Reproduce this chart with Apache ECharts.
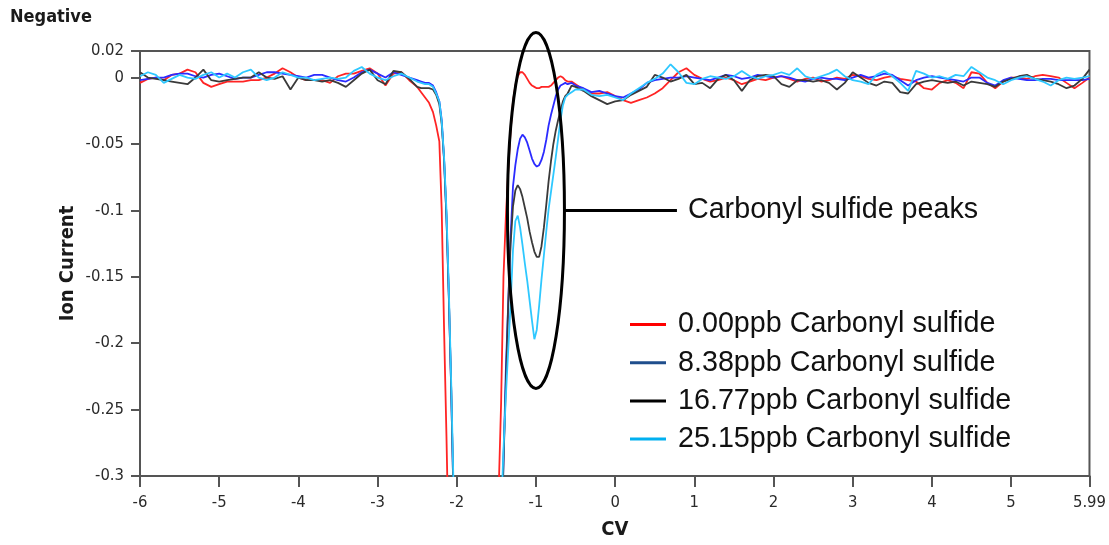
<!DOCTYPE html>
<html>
<head>
<meta charset="utf-8">
<script src="https://cdn.jsdelivr.net/npm/echarts@6/dist/echarts.min.js"></script>
<style>
  html, body { margin: 0; padding: 0; background: #fff; }
  #chart { width: 1109px; height: 545px; }
</style>
</head>
<body>
<div id="chart"></div>
<script>
// Compensation voltage (CV) sample positions shared by all four scans
const cv = [
  -6.0, -5.9, -5.8, -5.7, -5.6, -5.5, -5.4, -5.3, -5.2, -5.1,
  -5.0, -4.9, -4.8, -4.7, -4.6, -4.5, -4.4, -4.3, -4.2, -4.1,
  -4.0, -3.9, -3.8, -3.7, -3.6, -3.5, -3.4, -3.3, -3.2, -3.1,
  -3.0, -2.9, -2.8, -2.7, -2.6,
  -2.5, -2.45, -2.4, -2.35, -2.3, -2.26, -2.22, -2.19, -2.16, -2.13, -2.1, -2.07, -2.04, -2.0,
  -1.8, -1.6,
  -1.5, -1.47, -1.44, -1.41, -1.38, -1.35, -1.32, -1.29, -1.26, -1.23, -1.2, -1.17, -1.14, -1.11,
  -1.08, -1.05, -1.02, -0.99, -0.96, -0.93, -0.9, -0.87, -0.84, -0.81, -0.78, -0.75, -0.72, -0.69,
  -0.66, -0.63, -0.6, -0.55, -0.5,
  -0.4, -0.3, -0.2, -0.1, 0.0, 0.1, 0.2, 0.3, 0.4, 0.5,
  0.6, 0.7, 0.8, 0.9, 1.0, 1.1, 1.2, 1.3, 1.4, 1.5,
  1.6, 1.7, 1.8, 1.9, 2.0, 2.1, 2.2, 2.3, 2.4, 2.5,
  2.6, 2.7, 2.8, 2.9, 3.0, 3.1, 3.2, 3.3, 3.4, 3.5,
  3.6, 3.7, 3.8, 3.9, 4.0, 4.1, 4.2, 4.3, 4.4, 4.5,
  4.6, 4.7, 4.8, 4.9, 5.0, 5.1, 5.2, 5.3, 5.4, 5.5,
  5.6, 5.7, 5.8, 5.9, 5.99
];

// Ion current for 0.00 ppb carbonyl sulfide
const ppb000 = [
  -0.004, -0.001, 0.000, -0.002, 0.002, 0.003, 0.006, 0.004, -0.004, -0.007,
  -0.005, -0.003, -0.003, -0.003, -0.002, -0.002, 0.000, 0.003, 0.007, 0.004,
  0.000, -0.002, -0.002, -0.002, -0.004, 0.001, 0.003, 0.003, 0.005, 0.007,
  0.003, -0.006, 0.003, 0.004, -0.002,
  -0.007, -0.011, -0.015, -0.019, -0.026, -0.036, -0.048, -0.1, -0.19, -0.27, -0.36, -0.45, -0.5, -0.5,
  -0.5, -0.5,
  -0.42, -0.31, -0.245, -0.15, -0.105, -0.07, -0.04, -0.018, -0.006, 0.001, 0.004, 0.004, 0.002, -0.001,
  -0.004, -0.006, -0.007, -0.008, -0.008, -0.007, -0.007, -0.007, -0.007, -0.006, -0.004, -0.002, 0.000, 0.001,
  0.000, -0.002, -0.003, -0.003, -0.005,
  -0.009, -0.012, -0.012, -0.011, -0.014, -0.017, -0.019, -0.017, -0.015, -0.012,
  -0.008, -0.002, 0.004, 0.007, 0.002, -0.001, -0.003, -0.002, 0.000, -0.002,
  -0.005, -0.003, -0.001, -0.002, 0.000, 0.001, -0.001, -0.003, -0.001, 0.000,
  -0.003, -0.002, 0.000, -0.001, 0.002, 0.001, -0.001, -0.002, 0.000, 0.001,
  -0.001, -0.002, -0.003, -0.008, -0.009, -0.004, -0.002, -0.004, -0.008, 0.004,
  0.003, -0.004, -0.008, -0.003, 0.000, 0.000, -0.001, 0.001, 0.002, 0.001,
  0.000, -0.004, -0.008, -0.004, 0.000
];

// Ion current for 8.38 ppb carbonyl sulfide
const ppb838 = [
  -0.002, -0.001, 0.000, 0.000, 0.002, 0.003, 0.003, 0.001, 0.000, 0.002,
  0.003, 0.001, -0.001, 0.000, 0.000, 0.002, 0.004, 0.004, 0.003, 0.002,
  0.001, 0.000, 0.002, 0.002, 0.000, -0.002, -0.003, 0.000, 0.004, 0.006,
  0.003, 0.000, 0.004, 0.002, 0.000,
  -0.002, -0.003, -0.004, -0.004, -0.006, -0.011, -0.018, -0.032, -0.062, -0.105, -0.165, -0.235, -0.32, -0.45,
  -0.5, -0.5,
  -0.5, -0.45, -0.36, -0.29, -0.22, -0.17, -0.12, -0.082, -0.066, -0.054, -0.046, -0.043, -0.045, -0.049,
  -0.055, -0.061, -0.065, -0.067, -0.066, -0.062, -0.056, -0.047, -0.036, -0.028, -0.021, -0.014, -0.009, -0.006,
  -0.005, -0.004, -0.005, -0.004, -0.006,
  -0.008, -0.011, -0.010, -0.012, -0.014, -0.015, -0.012, -0.009, -0.004, -0.002,
  -0.001, 0.000, 0.000, 0.001, 0.000, -0.001, -0.002, 0.000, 0.002, 0.001,
  -0.001, 0.000, 0.002, 0.001, 0.000, 0.001, 0.000, -0.002, -0.003, -0.001,
  0.000, -0.001, -0.001, -0.002, 0.000, 0.002, 0.000, 0.001, 0.003, 0.002,
  -0.002, -0.006, -0.002, 0.000, 0.001, 0.000, -0.001, -0.002, -0.003, 0.000,
  0.000, -0.004, -0.006, -0.002, 0.000, -0.001, -0.002, -0.002, -0.001, -0.001,
  -0.002, -0.002, -0.002, -0.002, -0.001
];

// Ion current for 16.77 ppb carbonyl sulfide
const ppb1677 = [
  0.004, 0.000, -0.001, -0.002, -0.003, -0.004, -0.005, 0.000, 0.006, -0.002,
  -0.003, -0.002, -0.001, 0.000, 0.000, 0.004, 0.000, -0.001, 0.001, -0.009,
  0.000, -0.002, -0.002, -0.003, -0.002, -0.004, -0.007, -0.002, 0.003, 0.006,
  -0.002, -0.005, 0.005, 0.004, -0.001,
  -0.007, -0.008, -0.008, -0.008, -0.009, -0.013, -0.02, -0.035, -0.062, -0.105, -0.165, -0.235, -0.32, -0.45,
  -0.5, -0.5,
  -0.5, -0.45, -0.36, -0.29, -0.23, -0.17, -0.125, -0.097, -0.085, -0.081, -0.084, -0.09, -0.098, -0.106,
  -0.116, -0.124, -0.131, -0.135, -0.135, -0.127, -0.113, -0.096, -0.078, -0.063, -0.05, -0.04, -0.032, -0.025,
  -0.018, -0.014, -0.012, -0.006, -0.007,
  -0.010, -0.014, -0.017, -0.020, -0.018, -0.017, -0.013, -0.010, -0.007, 0.002,
  0.000, -0.003, -0.001, 0.002, -0.005, -0.004, -0.008, -0.001, 0.002, -0.002,
  -0.010, -0.002, 0.001, 0.002, 0.001, -0.005, -0.007, -0.002, -0.002, -0.003,
  -0.002, -0.004, -0.009, -0.004, 0.004, 0.000, -0.004, -0.006, -0.003, -0.004,
  -0.011, -0.012, -0.005, -0.003, -0.002, -0.003, -0.004, -0.003, -0.006, -0.003,
  -0.004, -0.005, -0.007, -0.003, -0.001, 0.001, 0.002, -0.001, -0.002, -0.003,
  -0.005, -0.008, -0.006, -0.001, 0.006
];

// Ion current for 25.15 ppb carbonyl sulfide
const ppb2515 = [
  0.001, 0.004, 0.002, -0.004, -0.001, 0.002, 0.000, -0.001, 0.002, 0.004,
  0.000, 0.003, 0.000, 0.004, 0.006, 0.000, -0.002, 0.000, 0.004, 0.002,
  0.000, 0.000, -0.002, -0.001, 0.000, -0.001, 0.000, 0.005, 0.008, 0.003,
  0.000, -0.002, 0.001, 0.003, 0.000,
  -0.003, -0.004, -0.005, -0.005, -0.007, -0.012, -0.018, -0.033, -0.06, -0.1, -0.16, -0.23, -0.31, -0.44,
  -0.5, -0.5,
  -0.5, -0.42, -0.33, -0.28, -0.24, -0.205, -0.17, -0.13, -0.108, -0.104, -0.113, -0.126, -0.14, -0.153,
  -0.168, -0.183, -0.197, -0.19, -0.172, -0.152, -0.134, -0.116, -0.099, -0.086, -0.073, -0.06, -0.046, -0.032,
  -0.021, -0.015, -0.013, -0.011, -0.009,
  -0.009, -0.013, -0.014, -0.013, -0.015, -0.017, -0.012, -0.008, -0.004, -0.001,
  0.003, 0.010, 0.004, -0.004, -0.005, -0.001, 0.001, 0.000, -0.001, 0.001,
  0.005, 0.001, -0.001, 0.001, 0.002, 0.004, 0.002, 0.007, 0.001, -0.001,
  0.001, 0.003, 0.006, 0.001, -0.002, -0.003, -0.005, 0.002, 0.005, 0.001,
  -0.004, -0.010, 0.005, 0.003, 0.000, 0.001, -0.001, 0.002, 0.001, 0.008,
  0.004, 0.000, -0.002, -0.005, -0.002, 0.000, 0.001, -0.001, -0.003, -0.006,
  -0.002, 0.000, -0.001, 0.000, 0.001
];

const seriesNames = [
  '0.00ppb Carbonyl sulfide',
  '8.38ppb Carbonyl sulfide',
  '16.77ppb Carbonyl sulfide',
  '25.15ppb Carbonyl sulfide'
];
const lineColors = ['#ff2424', '#2b2bff', '#3a3a3a', '#2ec8ff'];
const legendColors = ['#ff0000', '#1f4e8c', '#000000', '#00b0f0'];

const xTicks = [-6, -5, -4, -3, -2, -1, 0, 1, 2, 3, 4, 5, 5.99];
const yTicks = [0.02, 0, -0.05, -0.1, -0.15, -0.2, -0.25, -0.3];

const peakLabel = 'Carbonyl sulfide peaks';
const peakCenter = [-1.0, -0.1]; // CV, ion current at the middle of the peak group

const tickFont = 'DejaVu Sans Condensed';
const textFont = 'Liberation Sans';

const chart = echarts.init(document.getElementById('chart'));

function pairs(values) {
  return cv.map((x, i) => [x, values[i]]);
}

const allValues = [ppb000, ppb838, ppb1677, ppb2515];

chart.setOption({
  animation: false,
  backgroundColor: '#ffffff',
  title: {
    text: 'Negative',
    left: 10,
    top: 8,
    padding: 0,
    textStyle: { fontFamily: tickFont, fontWeight: 'bold', fontSize: 18, color: '#1a1a1a' }
  },
  grid: {
    left: 140, right: 19, top: 51, bottom: 66,
    show: true, borderColor: '#555', borderWidth: 2, backgroundColor: 'transparent'
  },
  xAxis: {
    type: 'value',
    min: -6, max: 5.99,
    name: 'CV',
    nameLocation: 'middle',
    nameGap: 44,
    nameTextStyle: { fontFamily: tickFont, fontWeight: 'bold', fontSize: 20, color: '#1a1a1a' },
    axisLine: { show: true, onZero: false, lineStyle: { color: '#555', width: 2 } },
    axisTick: { show: true, customValues: xTicks, length: 11, lineStyle: { color: '#555', width: 2 } },
    axisLabel: {
      customValues: xTicks, margin: 18, fontFamily: tickFont, fontSize: 16.5, color: '#2a2a2a',
      formatter: v => String(v)
    },
    splitLine: { show: false }
  },
  yAxis: {
    type: 'value',
    min: -0.3, max: 0.02,
    name: 'Ion Current',
    nameLocation: 'middle',
    nameGap: 62,
    nameMoveOverlap: false,
    nameTextStyle: { fontFamily: tickFont, fontWeight: 'bold', fontSize: 20, color: '#1a1a1a' },
    axisLine: { show: true, onZero: false, lineStyle: { color: '#555', width: 2 } },
    axisTick: { show: true, customValues: yTicks, length: 9, lineStyle: { color: '#555', width: 2 } },
    axisLabel: {
      customValues: yTicks, margin: 16, fontFamily: tickFont, fontSize: 16.5, color: '#2a2a2a',
      formatter: v => String(v)
    },
    splitLine: { show: false }
  },
  legend: {
    orient: 'vertical',
    left: 630,
    top: 310,
    padding: 0,
    icon: 'rect',
    itemWidth: 36,
    itemHeight: 3,
    itemGap: 9.2,
    selectedMode: false,
    textStyle: { fontFamily: textFont, fontSize: 28.7, color: '#111', lineHeight: 28, padding: [0, 0, 0, 7] },
    data: seriesNames.map((n, i) => ({ name: n, itemStyle: { color: legendColors[i] } }))
  },
  series: seriesNames.map((n, i) => ({
    name: n,
    type: 'line',
    data: pairs(allValues[i]),
    showSymbol: false,
    symbol: 'none',
    clip: true,
    lineStyle: { color: lineColors[i], width: 1.8 },
    itemStyle: { color: lineColors[i] },
    z: 2 + i
  }))
});

// Ellipse callout around the carbonyl sulfide peaks, anchored at the peak position
const c = chart.convertToPixel({ gridIndex: 0 }, peakCenter);
const rx = 28.5, ry = 178;
chart.setOption({
  graphic: [
    {
      type: 'ellipse',
      shape: { cx: c[0], cy: c[1], rx: rx, ry: ry },
      style: { fill: 'none', stroke: '#000', lineWidth: 3 },
      z: 100
    },
    {
      type: 'line',
      shape: { x1: c[0] + rx, y1: c[1], x2: c[0] + 141, y2: c[1] },
      style: { stroke: '#000', lineWidth: 3 },
      z: 100
    },
    {
      type: 'text',
      x: c[0] + 152,
      y: c[1],
      style: {
        text: peakLabel,
        fill: '#111',
        font: '28.7px "' + textFont + '"',
        textVerticalAlign: 'middle',
        textAlign: 'left'
      },
      z: 100
    }
  ]
});
</script>
</body>
</html>
